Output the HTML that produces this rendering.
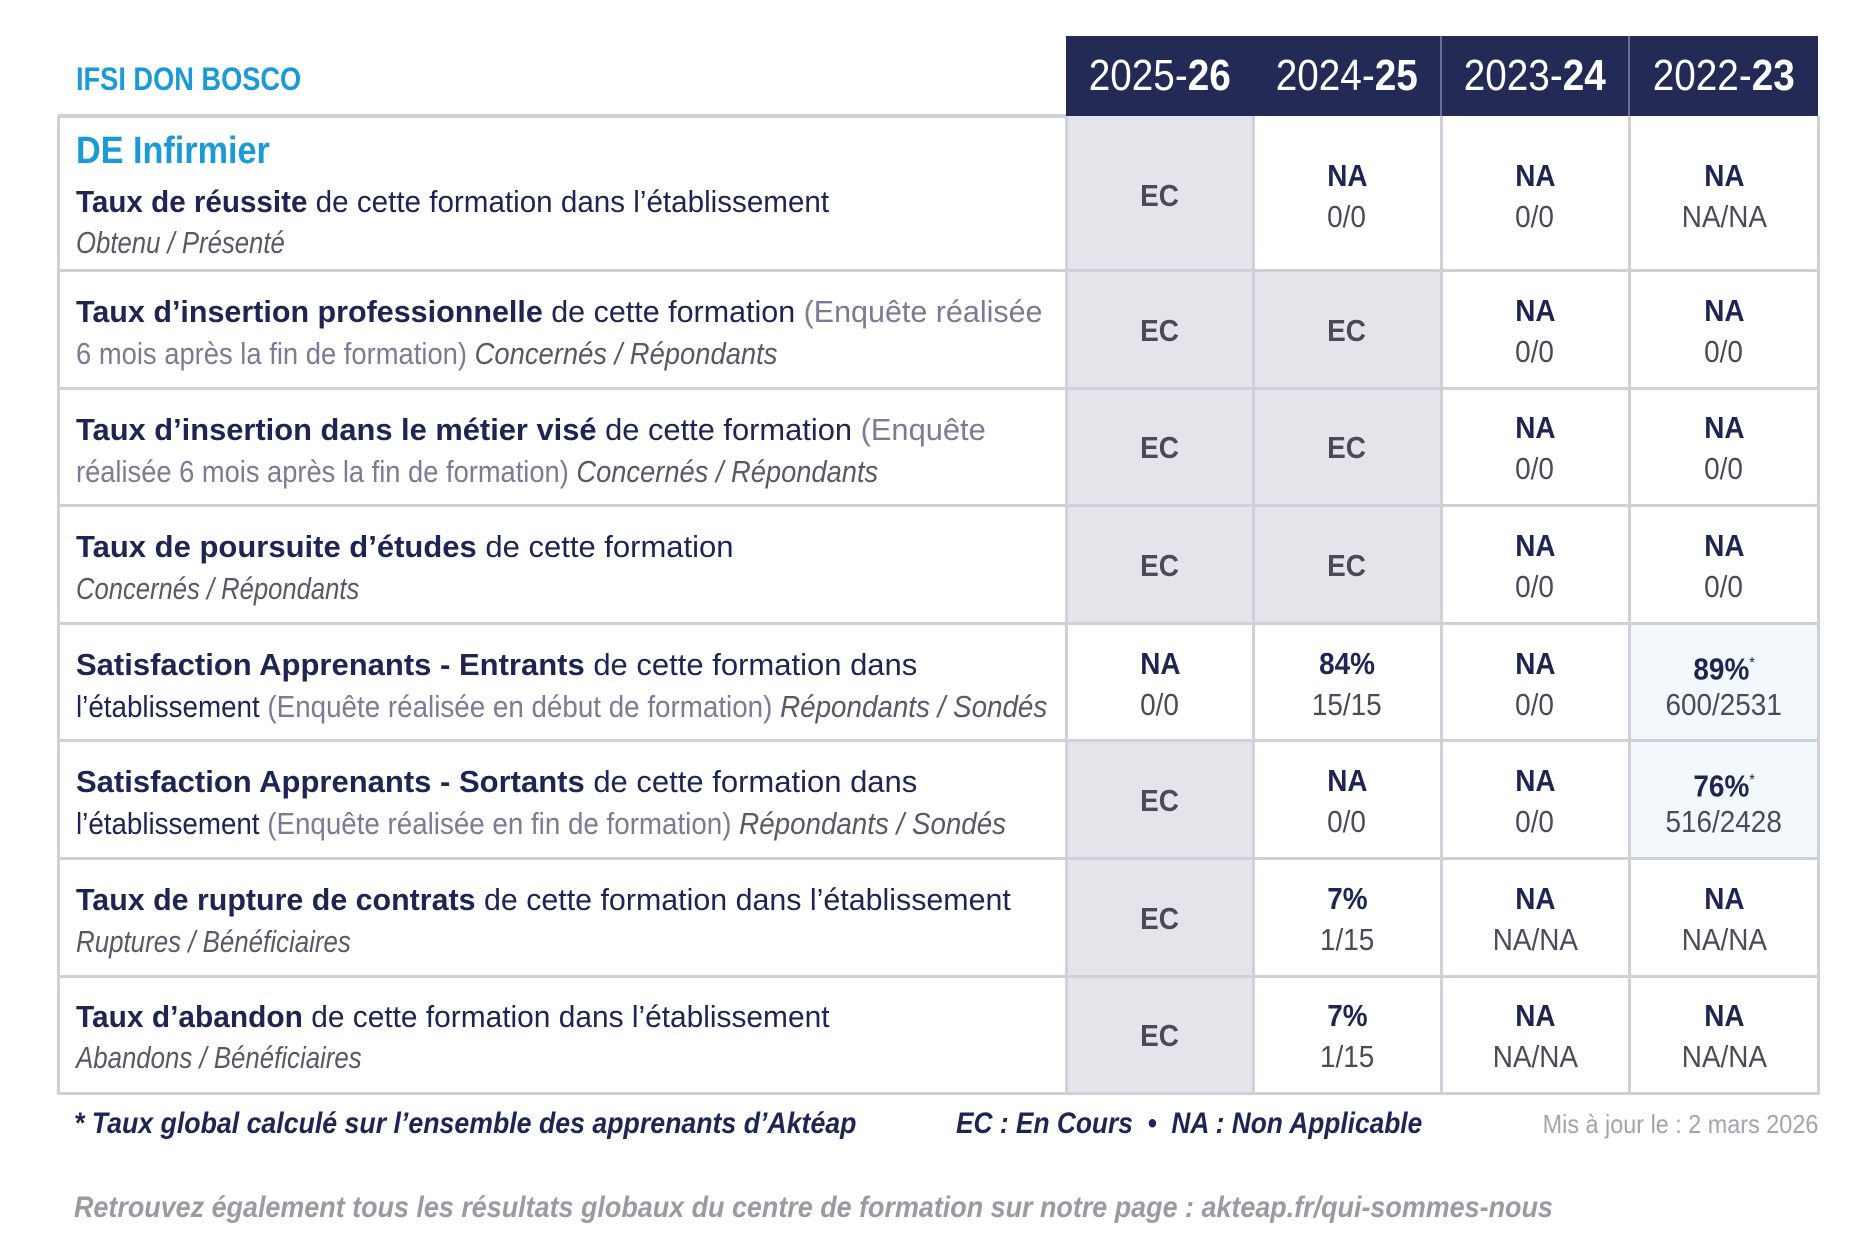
<!DOCTYPE html>
<html><head><meta charset="utf-8"><style>
body{margin:0;width:1875px;height:1250px;background:#fff;position:relative;overflow:hidden;font-family:"Liberation Sans",sans-serif;}
.a{position:absolute;}
.t{position:absolute;white-space:nowrap;line-height:40px;height:40px;font-size:31px;transform:scaleX(0.955);transform-origin:0 50%;color:#1f2552;}
.c{position:absolute;white-space:nowrap;line-height:40px;height:40px;font-size:31px;text-align:center;width:230px;color:#1f2552;}
.c span{display:inline-block;transform:scaleX(0.9);}
b{font-weight:bold;}
.g{color:#7b7b96;}
.i{font-style:italic;color:#555a66;}
.ec{color:#4a4b58;font-weight:bold;}
.v{color:#4a4b5a;}
.h{position:absolute;top:36px;height:80px;line-height:80px;color:#fff;font-size:44px;text-align:center;}
.h span{display:inline-block;transform:scaleX(0.88);}
</style></head><body>
<div class="a" style="left:1066px;top:36px;width:752px;height:80px;background:#232a55"></div>
<div class="a" style="left:1440px;top:36px;width:2px;height:80px;background:#6a6f90"></div>
<div class="a" style="left:1628px;top:36px;width:2px;height:80px;background:#6a6f90"></div>
<div class="h" style="left:1066px;width:187px"><span>2025-<b>26</b></span></div>
<div class="h" style="left:1253px;width:188px"><span>2024-<b>25</b></span></div>
<div class="h" style="left:1441px;width:188px"><span>2023-<b>24</b></span></div>
<div class="h" style="left:1629px;width:189px"><span>2022-<b>23</b></span></div>
<div class="t" style="left:76px;top:59px;color:#1a9ad6;font-weight:bold;font-size:32px;transform:scaleX(0.85)">IFSI DON BOSCO</div>

<div class="a" style="left:1066px;top:116px;width:187px;height:977px;background:#e4e4eb"></div>
<div class="a" style="left:1066px;top:623px;width:187px;height:117px;background:#fff"></div>
<div class="a" style="left:1253px;top:270px;width:188px;height:353px;background:#e4e4eb"></div>
<div class="a" style="left:1629px;top:623px;width:189px;height:235px;background:#f3f8fd"></div>

<div class="a" style="left:58px;top:114px;width:1008px;height:4px;background:#cfd0da"></div>
<div class="a" style="left:58px;top:269px;width:1762px;height:3px;background:#cfd0da"></div>
<div class="a" style="left:58px;top:387px;width:1762px;height:3px;background:#cfd0da"></div>
<div class="a" style="left:58px;top:504px;width:1762px;height:3px;background:#cfd0da"></div>
<div class="a" style="left:58px;top:622px;width:1762px;height:3px;background:#cfd0da"></div>
<div class="a" style="left:58px;top:739px;width:1762px;height:3px;background:#cfd0da"></div>
<div class="a" style="left:58px;top:857px;width:1762px;height:3px;background:#cfd0da"></div>
<div class="a" style="left:58px;top:975px;width:1762px;height:3px;background:#cfd0da"></div>
<div class="a" style="left:58px;top:1092px;width:1762px;height:3px;background:#cfd0da"></div>
<div class="a" style="left:57px;top:116px;width:3px;height:978px;background:#cfd0da"></div>
<div class="a" style="left:1065px;top:116px;width:3px;height:978px;background:#cfd0da"></div>
<div class="a" style="left:1252px;top:116px;width:3px;height:978px;background:#cfd0da"></div>
<div class="a" style="left:1440px;top:116px;width:3px;height:978px;background:#cfd0da"></div>
<div class="a" style="left:1628px;top:116px;width:3px;height:978px;background:#cfd0da"></div>
<div class="a" style="left:1817px;top:116px;width:3px;height:978px;background:#cfd0da"></div>

<div class="t" style="left:76px;top:131px;color:#1a9ad6;font-weight:bold;font-size:38px;transform:scaleX(0.9)">DE Infirmier</div>
<div class="t" style="left:76px;top:182px"><b>Taux de réussite</b> de cette formation dans l’établissement</div>
<div class="t" style="left:76px;top:223px;transform:scaleX(0.83)"><span class="i">Obtenu / Présenté</span></div>

<div class="t" style="left:76px;top:292px;transform:scaleX(0.983)"><b>Taux d’insertion professionnelle</b> de cette formation <span class="g">(Enquête réalisée</span></div>
<div class="t" style="left:76px;top:334px;transform:scaleX(0.883)"><span class="g">6 mois après la fin de formation)</span> <span class="i">Concernés / Répondants</span></div>

<div class="t" style="left:76px;top:410px;transform:scaleX(0.995)"><b>Taux d’insertion dans le métier visé</b> de cette formation <span class="g">(Enquête</span></div>
<div class="t" style="left:76px;top:452px;transform:scaleX(0.88)"><span class="g">réalisée 6 mois après la fin de formation)</span> <span class="i">Concernés / Répondants</span></div>

<div class="t" style="left:76px;top:527px;transform:scaleX(1)"><b>Taux de poursuite d’études</b> de cette formation</div>
<div class="t" style="left:76px;top:569px;transform:scaleX(0.826)"><span class="i">Concernés / Répondants</span></div>

<div class="t" style="left:76px;top:645px;transform:scaleX(1)"><b>Satisfaction Apprenants - Entrants</b> de cette formation dans</div>
<div class="t" style="left:76px;top:687px;transform:scaleX(0.896)">l’établissement <span class="g">(Enquête réalisée en début de formation)</span> <span class="i">Répondants / Sondés</span></div>

<div class="t" style="left:76px;top:762px;transform:scaleX(1)"><b>Satisfaction Apprenants - Sortants</b> de cette formation dans</div>
<div class="t" style="left:76px;top:804px;transform:scaleX(0.895)">l’établissement <span class="g">(Enquête réalisée en fin de formation)</span> <span class="i">Répondants / Sondés</span></div>

<div class="t" style="left:76px;top:880px;transform:scaleX(0.98)"><b>Taux de rupture de contrats</b> de cette formation dans l’établissement</div>
<div class="t" style="left:76px;top:922px;transform:scaleX(0.835)"><span class="i">Ruptures / Bénéficiaires</span></div>

<div class="t" style="left:76px;top:997px;transform:scaleX(0.964)"><b>Taux d’abandon</b> de cette formation dans l’établissement</div>
<div class="t" style="left:76px;top:1038px;transform:scaleX(0.833)"><span class="i">Abandons / Bénéficiaires</span></div>

<!-- row1 -->
<div class="c ec" style="left:1045px;top:176px"><span>EC</span></div>
<div class="c" style="left:1232px;top:156px"><span><b>NA</b></span></div>
<div class="c v" style="left:1232px;top:197px"><span>0/0</span></div>
<div class="c" style="left:1420px;top:156px"><span><b>NA</b></span></div>
<div class="c v" style="left:1420px;top:197px"><span>0/0</span></div>
<div class="c" style="left:1609px;top:156px"><span><b>NA</b></span></div>
<div class="c v" style="left:1609px;top:197px"><span>NA/NA</span></div>
<!-- row2 -->
<div class="c ec" style="left:1045px;top:311px"><span>EC</span></div>
<div class="c ec" style="left:1232px;top:311px"><span>EC</span></div>
<div class="c" style="left:1420px;top:291px"><span><b>NA</b></span></div>
<div class="c v" style="left:1420px;top:332px"><span>0/0</span></div>
<div class="c" style="left:1609px;top:291px"><span><b>NA</b></span></div>
<div class="c v" style="left:1609px;top:332px"><span>0/0</span></div>
<!-- row3 -->
<div class="c ec" style="left:1045px;top:428px"><span>EC</span></div>
<div class="c ec" style="left:1232px;top:428px"><span>EC</span></div>
<div class="c" style="left:1420px;top:408px"><span><b>NA</b></span></div>
<div class="c v" style="left:1420px;top:449px"><span>0/0</span></div>
<div class="c" style="left:1609px;top:408px"><span><b>NA</b></span></div>
<div class="c v" style="left:1609px;top:449px"><span>0/0</span></div>
<!-- row4 -->
<div class="c ec" style="left:1045px;top:546px"><span>EC</span></div>
<div class="c ec" style="left:1232px;top:546px"><span>EC</span></div>
<div class="c" style="left:1420px;top:526px"><span><b>NA</b></span></div>
<div class="c v" style="left:1420px;top:567px"><span>0/0</span></div>
<div class="c" style="left:1609px;top:526px"><span><b>NA</b></span></div>
<div class="c v" style="left:1609px;top:567px"><span>0/0</span></div>
<!-- row5 -->
<div class="c" style="left:1045px;top:644px"><span><b>NA</b></span></div>
<div class="c v" style="left:1045px;top:685px"><span>0/0</span></div>
<div class="c" style="left:1232px;top:644px"><span><b>84%</b></span></div>
<div class="c v" style="left:1232px;top:685px"><span>15/15</span></div>
<div class="c" style="left:1420px;top:644px"><span><b>NA</b></span></div>
<div class="c v" style="left:1420px;top:685px"><span>0/0</span></div>
<div class="c" style="left:1609px;top:644px"><span><b>89%</b><sup style="font-size:16px">*</sup></span></div>
<div class="c v" style="left:1609px;top:685px"><span>600/2531</span></div>
<!-- row6 -->
<div class="c ec" style="left:1045px;top:781px"><span>EC</span></div>
<div class="c" style="left:1232px;top:761px"><span><b>NA</b></span></div>
<div class="c v" style="left:1232px;top:802px"><span>0/0</span></div>
<div class="c" style="left:1420px;top:761px"><span><b>NA</b></span></div>
<div class="c v" style="left:1420px;top:802px"><span>0/0</span></div>
<div class="c" style="left:1609px;top:761px"><span><b>76%</b><sup style="font-size:16px">*</sup></span></div>
<div class="c v" style="left:1609px;top:802px"><span>516/2428</span></div>
<!-- row7 -->
<div class="c ec" style="left:1045px;top:899px"><span>EC</span></div>
<div class="c" style="left:1232px;top:879px"><span><b>7%</b></span></div>
<div class="c v" style="left:1232px;top:920px"><span>1/15</span></div>
<div class="c" style="left:1420px;top:879px"><span><b>NA</b></span></div>
<div class="c v" style="left:1420px;top:920px"><span>NA/NA</span></div>
<div class="c" style="left:1609px;top:879px"><span><b>NA</b></span></div>
<div class="c v" style="left:1609px;top:920px"><span>NA/NA</span></div>
<!-- row8 -->
<div class="c ec" style="left:1045px;top:1016px"><span>EC</span></div>
<div class="c" style="left:1232px;top:996px"><span><b>7%</b></span></div>
<div class="c v" style="left:1232px;top:1037px"><span>1/15</span></div>
<div class="c" style="left:1420px;top:996px"><span><b>NA</b></span></div>
<div class="c v" style="left:1420px;top:1037px"><span>NA/NA</span></div>
<div class="c" style="left:1609px;top:996px"><span><b>NA</b></span></div>
<div class="c v" style="left:1609px;top:1037px"><span>NA/NA</span></div>

<div class="t" style="left:74px;top:1104px;font-weight:bold;font-style:italic;font-size:30px;transform:scaleX(0.89)">* Taux global calculé sur l’ensemble des apprenants d’Aktéap</div>
<div class="t" style="left:956px;top:1104px;font-weight:bold;font-style:italic;font-size:30px;transform:scaleX(0.877)">EC : En Cours &nbsp;•&nbsp; NA : Non Applicable</div>
<div class="a" style="right:57px;top:1104px;line-height:40px;font-size:26px;color:#a3a3ad;white-space:nowrap;transform:scaleX(0.9);transform-origin:100% 50%">Mis à jour le : 2 mars 2026</div>
<div class="t" style="left:74px;top:1188px;font-weight:bold;font-style:italic;font-size:30px;color:#9a9aa3;transform:scaleX(0.897)">Retrouvez également tous les résultats globaux du centre de formation sur notre page : akteap.fr/qui-sommes-nous</div>
</body></html>
